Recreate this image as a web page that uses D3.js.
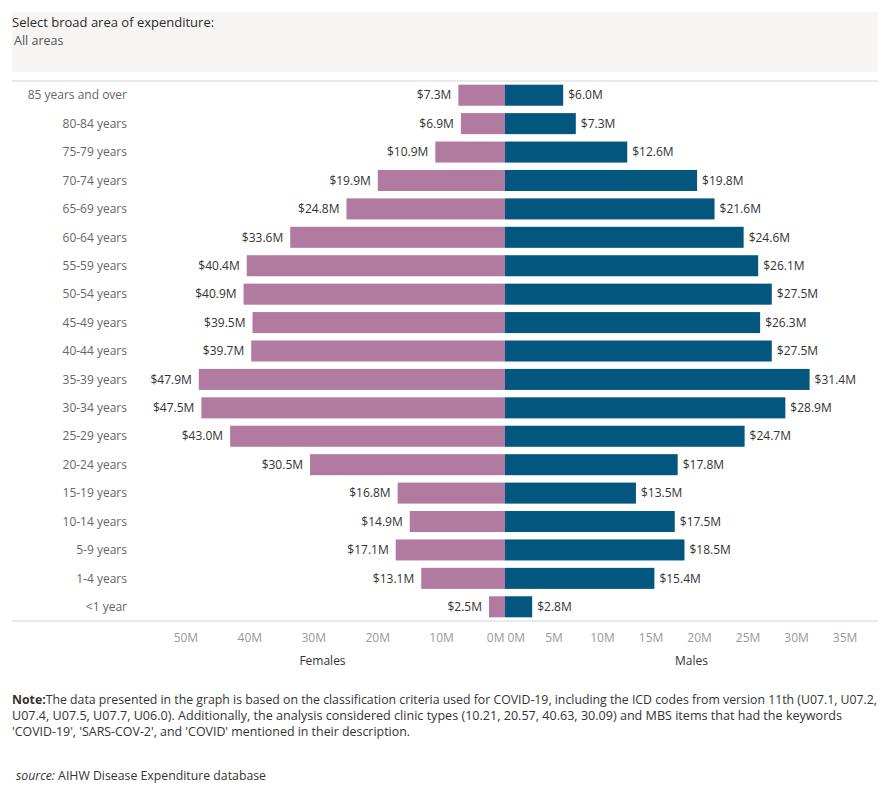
<!DOCTYPE html>
<html><head><meta charset="utf-8">
<script src="https://cdn.jsdelivr.net/npm/d3@7"></script>
<style>body{margin:0;background:#fff}svg{display:block}</style>
</head><body>
<script>
const ageGroups = ["85 years and over","80-84 years","75-79 years","70-74 years","65-69 years","60-64 years","55-59 years","50-54 years","45-49 years","40-44 years","35-39 years","30-34 years","25-29 years","20-24 years","15-19 years","10-14 years","5-9 years","1-4 years","<1 year"];
const females = [7.3,6.9,10.9,19.9,24.8,33.6,40.4,40.9,39.5,39.7,47.9,47.5,43.0,30.5,16.8,14.9,17.1,13.1,2.5];
const males = [6.0,7.3,12.6,19.8,21.6,24.6,26.1,27.5,26.3,27.5,31.4,28.9,24.7,17.8,13.5,17.5,18.5,15.4,2.8];
const femaleTicks = [0,10,20,30,40,50];
const maleTicks = [0,5,10,15,20,25,30,35];

(function(){
const W = 890, H = 800;
const font = "'Open Sans', sans-serif";
const svg = d3.select("body").append("svg").attr("width", W).attr("height", H)
  .style("font-family", font);

// header
svg.append("rect").attr("x",12).attr("y",12).attr("width",866).attr("height",60).attr("fill","#f6f5f4");
svg.append("text").attr("x",12).attr("y",27).attr("font-size",13).attr("font-weight",500).attr("fill","#2b2b2b").text("Select broad area of expenditure:");
svg.append("text").attr("x",14).attr("y",45).attr("font-size",12.5).attr("fill","#555").text("All areas");

const y0 = 81, y1 = 621, center = 505;
const y = d3.scaleBand().domain(ageGroups).range([y0, y1]).paddingInner(0.26).paddingOuter(0.13);
const xF = d3.scaleLinear().domain([0, 57.1]).range([center, 140]);
const xM = d3.scaleLinear().domain([0, 38.45]).range([center, 878]);

svg.append("line").attr("x1",12).attr("x2",878).attr("y1",y0).attr("y2",y0).attr("stroke","#d4d4d4");
svg.append("line").attr("x1",12).attr("x2",878).attr("y1",y1).attr("y2",y1).attr("stroke","#d4d4d4");

// y labels
svg.append("g").selectAll("text").data(ageGroups).join("text")
  .attr("x",127).attr("y",d=>y(d)+y.bandwidth()/2).attr("dy","0.35em")
  .attr("text-anchor","end").attr("font-size",12).attr("fill","#666").text(d=>d);

const rows = ageGroups.map((a,i)=>({a, f:females[i], m:males[i]}));
const fmt = v => "$" + v.toFixed(1) + "M";

svg.append("g").selectAll("rect").data(rows).join("rect")
  .attr("x",d=>xF(d.f)).attr("y",d=>y(d.a)).attr("width",d=>xF(0)-xF(d.f)).attr("height",y.bandwidth())
  .attr("fill","#b07aa1");
svg.append("g").selectAll("rect").data(rows).join("rect")
  .attr("x",xM(0)).attr("y",d=>y(d.a)).attr("width",d=>xM(d.m)-xM(0)).attr("height",y.bandwidth())
  .attr("fill","#03577f");

svg.append("g").selectAll("text").data(rows).join("text")
  .attr("x",d=>xF(d.f)-7).attr("y",d=>y(d.a)+y.bandwidth()/2).attr("dy","0.35em")
  .attr("text-anchor","end").attr("font-size",12).attr("fill","#333").text(d=>fmt(d.f));
svg.append("g").selectAll("text").data(rows).join("text")
  .attr("x",d=>xM(d.m)+5).attr("y",d=>y(d.a)+y.bandwidth()/2).attr("dy","0.35em")
  .attr("text-anchor","start").attr("font-size",12).attr("fill","#333").text(d=>fmt(d.m));

// axes
const axF = svg.append("g").attr("transform",`translate(0,${y1})`)
  .call(d3.axisBottom(xF).tickValues(femaleTicks).tickFormat(d=>d+"M").tickSize(0).tickPadding(12));
const axM = svg.append("g").attr("transform",`translate(0,${y1})`)
  .call(d3.axisBottom(xM).tickValues(maleTicks).tickFormat(d=>d+"M").tickSize(0).tickPadding(12));
[axF, axM].forEach(g=>{
  g.select(".domain").remove();
  g.selectAll("text").attr("font-size",12).attr("fill","#999").attr("font-family",font);
});
axF.selectAll(".tick").filter(d=>d===0).select("text").attr("text-anchor","end").attr("dx",-1);
axM.selectAll(".tick").filter(d=>d===0).select("text").attr("text-anchor","start").attr("dx",2);

svg.append("text").attr("x",(140+center)/2).attr("y",665).attr("text-anchor","middle").attr("font-size",12).attr("fill","#333").text("Females");
svg.append("text").attr("x",(center+878)/2).attr("y",665).attr("text-anchor","middle").attr("font-size",12).attr("fill","#333").text("Males");

// note
const noteLines = [
  {y:704, len:865, parts:[["Note:",700],["The data presented in the graph is based on the classification criteria used for COVID-19, including the ICD codes from version 11th (U07.1, U07.2,",400]]},
  {y:720, len:830, parts:[["U07.4, U07.5, U07.7, U06.0). Additionally, the analysis considered clinic types (10.21, 20.57, 40.63, 30.09) and MBS items that had the keywords",400]]},
  {y:736, len:398, parts:[["'COVID-19', 'SARS-COV-2', and 'COVID' mentioned in their description.",400]]}
];
noteLines.forEach(l=>{
  const t = svg.append("text").attr("x",12).attr("y",l.y).attr("font-size",12).attr("fill","#333")
    .attr("textLength",l.len).attr("lengthAdjust","spacingAndGlyphs");
  l.parts.forEach(p=>t.append("tspan").attr("font-weight",p[1]).text(p[0]));
});
const src = svg.append("text").attr("x",16).attr("y",780).attr("font-size",12).attr("fill","#333")
  .attr("textLength",250).attr("lengthAdjust","spacingAndGlyphs");
src.append("tspan").attr("font-style","italic").text("source: ");
src.append("tspan").text("AIHW Disease Expenditure database");
})();
</script>
</body></html>
